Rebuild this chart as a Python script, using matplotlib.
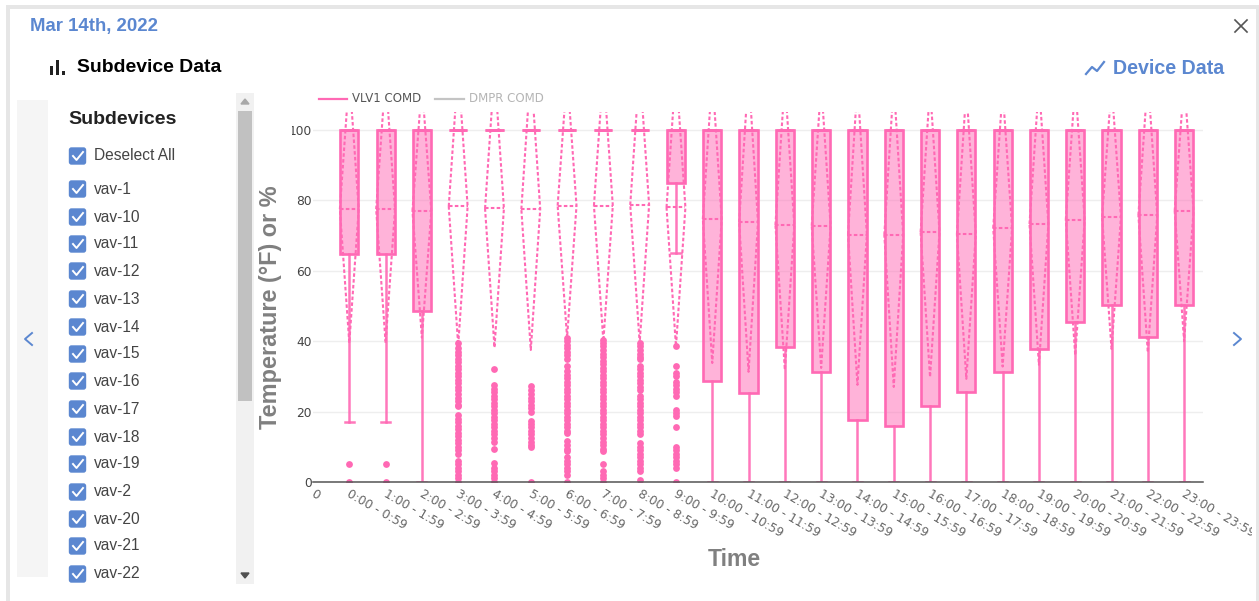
import matplotlib
matplotlib.use("Agg")
import matplotlib.pyplot as plt
from matplotlib.patches import FancyBboxPatch, Rectangle
from matplotlib.transforms import Bbox, offset_copy

W, H = 1259, 601
PINK = "#ff69b4"
BLUE = "#5b87d0"

hours = ["0:00 - 0:59", "1:00 - 1:59", "2:00 - 2:59", "3:00 - 3:59", "4:00 - 4:59", "5:00 - 5:59",
         "6:00 - 6:59", "7:00 - 7:59", "8:00 - 8:59", "9:00 - 9:59", "10:00 - 10:59", "11:00 - 11:59",
         "12:00 - 12:59", "13:00 - 13:59", "14:00 - 14:59", "15:00 - 15:59", "16:00 - 16:59",
         "17:00 - 17:59", "18:00 - 18:59", "19:00 - 19:59", "20:00 - 20:59", "21:00 - 21:59",
         "22:00 - 22:59", "23:00 - 23:59"]

q1 = [64.8, 64.8, 48.6, 100, 100, 100, 100, 100, 100, 85, 28.7, 25.3,
      38.3, 31.2, 17.6, 16, 21.6, 25.6, 31.2, 37.8, 45.5, 50.3, 41.2, 50.3]
q3 = [100] * 24
whisker_low = [17, 17, 0, 100, 100, 100, 100, 100, 100, 65, 0, 0,
               0, 0, 0, 0, 0, 0, 0, 0, 0, 0, 0, 0]
means = [77.5, 77.5, 77, 78.3, 77.7, 77.5, 78.5, 78.5, 78.7, 78, 74.7, 73.8,
         73, 72.8, 70.3, 70.2, 71, 70.4, 72.1, 73.3, 74.5, 75.3, 75.8, 77]
sds = [38, 38, 36, 39.5, 39.5, 40, 37.5, 38.5, 39.2, 39.5, 40.9, 42.5,
       41.2, 40.4, 42.7, 43.2, 41.2, 41.1, 39.3, 40, 38.5, 37.5, 39, 37]

outliers = [
    [0, 5],
    [0, 5],
    [],
    [0, 1, 2, 3, 4, 5, 6, 8, 9, 10, 11, 12, 13, 14, 15, 16, 17, 18, 19, 21.5, 22, 23, 24, 25, 26, 27,
     28, 29, 30, 31, 32, 33, 34, 35, 36, 37, 38, 39.5],
    [0, 1, 2, 3, 4, 5.3, 9.5, 11.5, 12.5, 13.5, 14.5, 15.5, 16.5, 17.5, 18.5, 19.5, 20.5, 21.5, 22.5,
     23.5, 24.5, 25.5, 26.5, 27.5, 32],
    [0, 9.8, 10.5, 11.5, 12.5, 13.5, 14.5, 15.5, 16.5, 17.3, 20, 21, 22, 23, 24, 25, 26, 27.2],
    [0, 2, 3, 4, 5, 6, 7, 8.8, 9.5, 10.5, 11.7, 13.8, 14.5, 15.5, 16.5, 17.5, 18.5, 19.5, 20.5, 21.5,
     22.5, 23.5, 24.5, 25.5, 26.5, 27.5, 28.5, 29.5, 30.5, 31.5, 33, 35, 36, 37, 38, 39, 40, 41],
    [0, 1, 2, 3, 5, 8.8, 9.5, 10.5, 11.5, 12.5, 13.5, 14.5, 15.5, 16.5, 17.5, 18.5, 19.5, 20.5, 21.5,
     22.5, 23.5, 24.5, 25.5, 26.5, 27.5, 28.5, 29.5, 30.5, 31.5, 32.5, 33.5, 34.5, 35.5, 36.5, 37.5,
     38.5, 39.5, 40.3],
    [0.5, 3.2, 4, 5, 6, 7, 8, 9, 10, 11, 13.7, 14.5, 15.5, 16.5, 17.5, 18.5, 19.5, 20.5, 21.5, 22.5,
     23.5, 24.5, 26, 27, 28, 29, 30, 31, 32, 33, 34.8, 35.5, 36.5, 37.5, 38.5, 39.5],
    [0, 4, 5, 6, 7, 8, 9, 10, 15.5, 18.7, 19.5, 20.5, 24.5, 25.5, 26.5, 27.5, 28.3, 30, 31, 33, 38.5],
    [], [], [], [], [], [], [], [], [], [], [], [], [], [],
]

subdevices = ["vav-1", "vav-10", "vav-11", "vav-12", "vav-13", "vav-14", "vav-15", "vav-16",
              "vav-17", "vav-18", "vav-19", "vav-2", "vav-20", "vav-21", "vav-22"]
row_y = [190, 218, 245, 272, 300, 328, 355, 382, 410, 438, 465, 493, 520, 547, 575]


def px(size):
    return size * 0.72


def checkbox(ui, y):
    ui.add_patch(FancyBboxPatch((69.5, y - 9), 16, 16, boxstyle="round,pad=0,rounding_size=2",
                                fc=BLUE, ec=BLUE, lw=1))
    ui.plot([73, 76.5, 83], [y - 1, y + 3, y - 5], color="white", lw=1.4)


def draw_panel(ui):
    ui.set_xlim(0, W)
    ui.set_ylim(H, 0)
    ui.axis("off")

    # modal border
    ui.add_patch(Rectangle((6, 5), 1253, 4, fc="#e6e6e6", ec="none"))
    ui.add_patch(Rectangle((6, 5), 4, 596, fc="#e6e6e6", ec="none"))
    ui.add_patch(Rectangle((1256, 5), 3, 596, fc="#e6e6e6", ec="none"))

    ui.text(30, 27, "Mar 14th, 2022", color=BLUE, fontsize=px(18.7), fontweight="bold",
            family="Liberation Sans", va="center")
    ui.plot([1235, 1247], [20, 32], color="#555555", lw=1.2)
    ui.plot([1235, 1247], [32, 20], color="#555555", lw=1.2)

    # bar icon + heading
    for x, top in [(52, 66), (58, 60), (64, 71)]:
        ui.add_patch(Rectangle((x - 1.5, top), 3, 74.5 - top, fc="#222222", ec="none"))
    ui.text(77, 68, "Subdevice Data", color="black", fontsize=px(19.4), fontweight="bold",
            family="Liberation Sans", va="center")

    # trend icon + link
    ui.plot([1086, 1092, 1097, 1104], [74, 67, 71, 62], color=BLUE, lw=1.6)
    ui.text(1113, 68, "Device Data", color=BLUE, fontsize=px(19.6), fontweight="bold",
            family="Liberation Sans", va="center")

    # left pager and scrollbar
    ui.add_patch(Rectangle((17, 100), 31, 477, fc="#f5f5f5", ec="none"))
    ui.plot([32, 25, 32], [333, 339, 345], color=BLUE, lw=1.4)
    ui.plot([1234, 1241, 1234], [333, 339, 345], color=BLUE, lw=1.4)
    ui.add_patch(Rectangle((236, 93), 18, 491, fc="#f1f1f1", ec="none"))
    ui.add_patch(Rectangle((238, 111), 14, 290, fc="#c1c1c1", ec="none"))
    ui.fill([241, 249, 245], [104, 104, 99], color="#a8a8a8")
    ui.fill([241, 249, 245], [573, 573, 578], color="#505050")

    ui.text(68, 119, "Subdevices", color="#222222", fontsize=px(19.5), fontweight="bold",
            family="Liberation Sans", va="center")
    checkbox(ui, 157)
    ui.text(94, 156, "Deselect All", color="#444444", fontsize=px(15.5),
            family="Liberation Sans", va="center")
    for name, y in zip(subdevices, row_y):
        checkbox(ui, y)
        ui.text(94, y - 1, name, color="#444444", fontsize=px(15.5),
                family="Liberation Sans", va="center")

    # chart legend
    ui.plot([319, 347], [99, 99], color=PINK, lw=1.6)
    ui.text(352, 99, "VLV1 COMD", color="#555555", fontsize=px(11.8), va="center")
    ui.plot([435, 464], [99, 99], color="#c4c4c4", lw=1.6)
    ui.text(469, 99, "DMPR COMD", color="#b5b5b5", fontsize=px(11.8), va="center")

    ui.text(271, 307, "Temperature (°F) or %", color="#808080", fontsize=px(23.5), fontweight="bold",
            family="Liberation Sans", rotation=90, ha="center", va="center")
    ui.text(734, 560, "Time", color="#808080", fontsize=px(23), fontweight="bold",
            family="Liberation Sans", ha="center", va="center")


def draw_boxes(ax):
    stats = []
    for i in range(len(hours)):
        stats.append({"whislo": whisker_low[i], "q1": q1[i], "med": q3[i], "q3": q3[i],
                      "whishi": q3[i], "fliers": outliers[i]})
    positions = list(range(1, len(hours) + 1))
    line = {"color": PINK, "lw": 1.8, "alpha": 0.9}
    ax.bxp(stats, positions=positions, widths=0.5, capwidths=0.25, patch_artist=True,
           boxprops={"facecolor": (1, 0.41, 0.71, 0.5), "edgecolor": PINK, "lw": 1.9},
           whiskerprops=line, capprops=line, medianprops=line,
           flierprops={"marker": "o", "markersize": 4.9, "markerfacecolor": PINK,
                       "markeredgecolor": PINK, "markeredgewidth": 0},
           manage_ticks=False)

    # mean / sd diamonds
    dash = (0, (1.7, 1.1))
    for pos, mean, sd in zip(positions, means, sds):
        xs = [pos - 0.26, pos, pos + 0.26, pos, pos - 0.26]
        ys = [mean, mean + sd, mean, mean - sd, mean]
        ax.plot(xs, ys, color=PINK, lw=1.5, ls=dash)
        ax.plot([pos - 0.26, pos + 0.26], [mean, mean], color=PINK, lw=1.5, ls=dash)


def main():
    fig = plt.figure(figsize=(W / 100, H / 100), dpi=100)

    ui = fig.add_axes([0, 0, 1, 1])
    draw_panel(ui)

    ax = fig.add_axes([313 / W, 1 - 482 / H, 890 / W, 370 / H])
    ax.patch.set_alpha(0)
    draw_boxes(ax)

    ax.set_xlim(0, 24.52)
    ax.set_ylim(0, 105.1)
    ax.set_yticks([0, 20, 40, 60, 80, 100])
    ax.set_xticks(range(25))
    ax.set_xticklabels(["0"] + hours, rotation=-30, ha="left", rotation_mode="anchor")
    ax.tick_params(axis="both", length=0, labelsize=px(12.2), labelcolor="#666666")
    ax.tick_params(axis="y", labelcolor="#444444", pad=1)
    ax.tick_params(axis="x", pad=4)
    ax.grid(axis="y", color="#eeeeee", lw=1)
    ax.set_axisbelow(True)
    for name in ["top", "right", "left"]:
        ax.spines[name].set_visible(False)
    ax.spines["bottom"].set_color("#555555")
    ax.spines["bottom"].set_linewidth(1.1)

    # labels run past the plot area and get cut by the panel
    clip = Bbox([[0, 0], [1252, H]])
    for label in ax.get_xticklabels():
        label.set_transform(offset_copy(label.get_transform(), fig=fig, x=2, units="dots"))
        label.set_clip_box(clip)
        label.set_clip_on(True)

    # the 1 of 100 is cut off on the left too
    clip_y = Bbox([[292, 0], [W, H]])
    for label in ax.get_yticklabels():
        label.set_clip_box(clip_y)
        label.set_clip_on(True)

    fig.savefig("out.png", dpi=100)
    plt.close(fig)


if __name__ == "__main__":
    main()
